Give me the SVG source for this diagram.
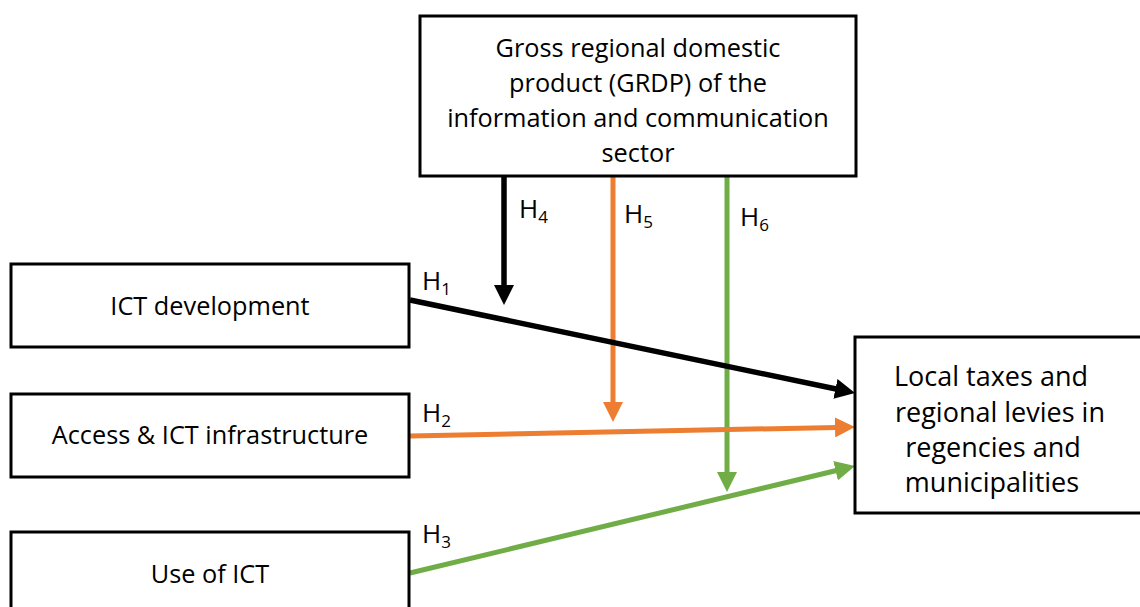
<svg xmlns="http://www.w3.org/2000/svg" width="1140" height="607" viewBox="0 0 1140 607">
<style>
.box{fill:#fff;stroke:#000;stroke-width:3}
.t{font-family:"Open Sans","Noto Sans","Liberation Sans",sans-serif;font-size:25.3px;fill:#000;text-anchor:middle}
.tr{font-family:"Open Sans","Noto Sans","Liberation Sans",sans-serif;font-size:27px;fill:#000;text-anchor:middle}
.h{font-family:"Open Sans","Noto Sans","Liberation Sans",sans-serif;font-size:26px;fill:#000}
.sub{font-size:17px}
.blk{stroke:#000;stroke-width:5.5;fill:none}
.org{stroke:#ED7D31;stroke-width:5;fill:none}
.grn{stroke:#70AD47;stroke-width:5;fill:none}
</style>
<defs>
<marker id="aB" markerUnits="userSpaceOnUse" markerWidth="20" markerHeight="20" refX="2" refY="10" orient="auto"><path d="M0,0 L20,10 L0,20 Z" fill="#000"/></marker>
<marker id="aO" markerUnits="userSpaceOnUse" markerWidth="20" markerHeight="20" refX="2" refY="10" orient="auto"><path d="M0,0 L20,10 L0,20 Z" fill="#ED7D31"/></marker>
<marker id="aG" markerUnits="userSpaceOnUse" markerWidth="20" markerHeight="20" refX="2" refY="10" orient="auto"><path d="M0,0 L20,10 L0,20 Z" fill="#70AD47"/></marker>
</defs>
<rect width="1140" height="607" fill="#fff"/>
<g id="connectors">
<line class="blk" x1="504" y1="176" x2="504" y2="287" marker-end="url(#aB)"/>
<line class="org" x1="613" y1="176" x2="613" y2="404" marker-end="url(#aO)"/>
<line class="grn" x1="727" y1="176" x2="727" y2="474" marker-end="url(#aG)"/>
<line class="blk" x1="410" y1="300" x2="837.4" y2="389.3" marker-end="url(#aB)"/>
<line class="org" x1="410" y1="436" x2="837" y2="427.4" marker-end="url(#aO)"/>
<line class="grn" x1="410" y1="573" x2="837.5" y2="470.2" marker-end="url(#aG)"/>
<text class="h" x="519" y="218">H<tspan class="sub" dy="5">4</tspan></text>
<text class="h" x="624" y="223">H<tspan class="sub" dy="5">5</tspan></text>
<text class="h" x="740" y="226">H<tspan class="sub" dy="5">6</tspan></text>
<text class="h" x="422" y="290">H<tspan class="sub" dy="5">1</tspan></text>
<text class="h" x="422" y="422">H<tspan class="sub" dy="5">2</tspan></text>
<text class="h" x="422" y="543">H<tspan class="sub" dy="5">3</tspan></text>
</g>
<g id="grdp">
<rect class="box" x="420" y="16" width="436" height="160"/>
<text class="t" x="638" y="57">Gross regional domestic</text>
<text class="t" x="638" y="92">product (GRDP) of the</text>
<text class="t" x="638" y="127">information and communication</text>
<text class="t" x="638" y="162">sector</text>
</g>
<g id="ict-development">
<rect class="box" x="11" y="264" width="398" height="83"/>
<text class="t" x="210" y="315">ICT development</text>
</g>
<g id="access-infrastructure">
<rect class="box" x="11" y="394" width="398" height="83"/>
<text class="t" x="210" y="444">Access &amp; ICT infrastructure</text>
</g>
<g id="use-of-ict">
<rect class="box" x="11" y="532" width="398" height="100"/>
<text class="t" x="210" y="583">Use of ICT</text>
</g>
<g id="local-taxes">
<rect class="box" x="855" y="337" width="300" height="176"/>
<text class="tr" x="991" y="386">Local taxes and</text>
<text class="tr" x="1000" y="422">regional levies in</text>
<text class="tr" x="993" y="457">regencies and</text>
<text class="tr" x="992" y="492">municipalities</text>
</g>
</svg>
